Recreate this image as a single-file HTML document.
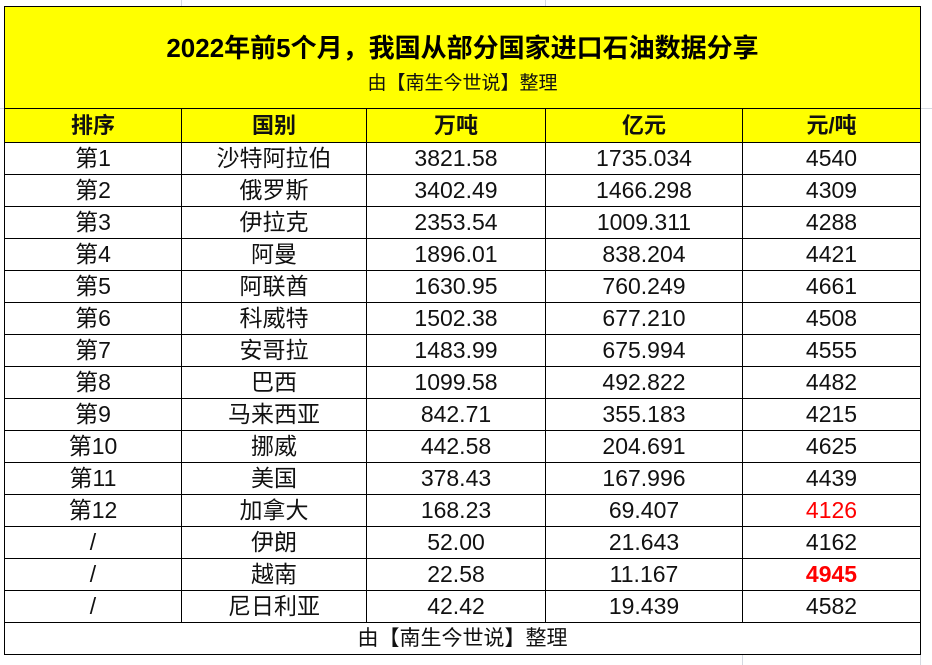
<!DOCTYPE html>
<html><head><meta charset="utf-8"><style>
body{margin:0;width:932px;height:665px;background:#fff;position:relative;overflow:hidden;font-family:"Liberation Sans","Noto Sans CJK SC",sans-serif;}
.g{position:absolute;background:#d4d8e0}
table{position:absolute;left:4px;top:6px;border-collapse:collapse;table-layout:fixed;}
td{border:1.5px solid #000;text-align:center;padding:0;font-size:23px;height:31px;line-height:31px;color:#111;overflow:hidden;white-space:nowrap}
.y{background:#ffff00}
.h td{font-weight:bold;font-size:22px;height:32.5px}
</style></head><body>
<div class="g" style="left:181px;top:0;width:1px;height:6px"></div>
<div class="g" style="left:545px;top:0;width:1px;height:6px"></div>
<div class="g" style="left:920px;top:108px;width:12px;height:1px"></div>
<div class="g" style="left:0;top:108px;width:4px;height:1px"></div>
<div class="g" style="left:742px;top:655px;width:1px;height:10px"></div>
<div class="g" style="left:920px;top:655px;width:1px;height:10px"></div>
<table>
<colgroup><col style="width:177px"><col style="width:185px"><col style="width:179px"><col style="width:197px"><col style="width:178px"></colgroup>
<tr><td colspan="5" class="y" style="height:101px;line-height:normal;vertical-align:top">
<div style="font-weight:bold;font-size:26px;margin-top:21px;color:#000">2022年前5个月，我国从部分国家进口石油数据分享</div>
<div style="font-size:19px;margin-top:3px">由【南生今世说】整理</div></td></tr>
<tr class="h y"><td>排序</td><td>国别</td><td>万吨</td><td>亿元</td><td>元/吨</td></tr>
<tr><td>第1</td><td>沙特阿拉伯</td><td>3821.58</td><td>1735.034</td><td>4540</td></tr>
<tr><td>第2</td><td>俄罗斯</td><td>3402.49</td><td>1466.298</td><td>4309</td></tr>
<tr><td>第3</td><td>伊拉克</td><td>2353.54</td><td>1009.311</td><td>4288</td></tr>
<tr><td>第4</td><td>阿曼</td><td>1896.01</td><td>838.204</td><td>4421</td></tr>
<tr><td>第5</td><td>阿联酋</td><td>1630.95</td><td>760.249</td><td>4661</td></tr>
<tr><td>第6</td><td>科威特</td><td>1502.38</td><td>677.210</td><td>4508</td></tr>
<tr><td>第7</td><td>安哥拉</td><td>1483.99</td><td>675.994</td><td>4555</td></tr>
<tr><td>第8</td><td>巴西</td><td>1099.58</td><td>492.822</td><td>4482</td></tr>
<tr><td>第9</td><td>马来西亚</td><td>842.71</td><td>355.183</td><td>4215</td></tr>
<tr><td>第10</td><td>挪威</td><td>442.58</td><td>204.691</td><td>4625</td></tr>
<tr><td>第11</td><td>美国</td><td>378.43</td><td>167.996</td><td>4439</td></tr>
<tr><td>第12</td><td>加拿大</td><td>168.23</td><td>69.407</td><td style="color:#ff0000">4126</td></tr>
<tr><td>/</td><td>伊朗</td><td>52.00</td><td>21.643</td><td>4162</td></tr>
<tr><td>/</td><td>越南</td><td>22.58</td><td>11.167</td><td style="color:#ff0000;font-weight:bold">4945</td></tr>
<tr><td>/</td><td>尼日利亚</td><td>42.42</td><td>19.439</td><td>4582</td></tr>
<tr><td colspan="5" style="font-size:21px;height:31.5px">由【南生今世说】整理</td></tr>
</table>
</body></html>
